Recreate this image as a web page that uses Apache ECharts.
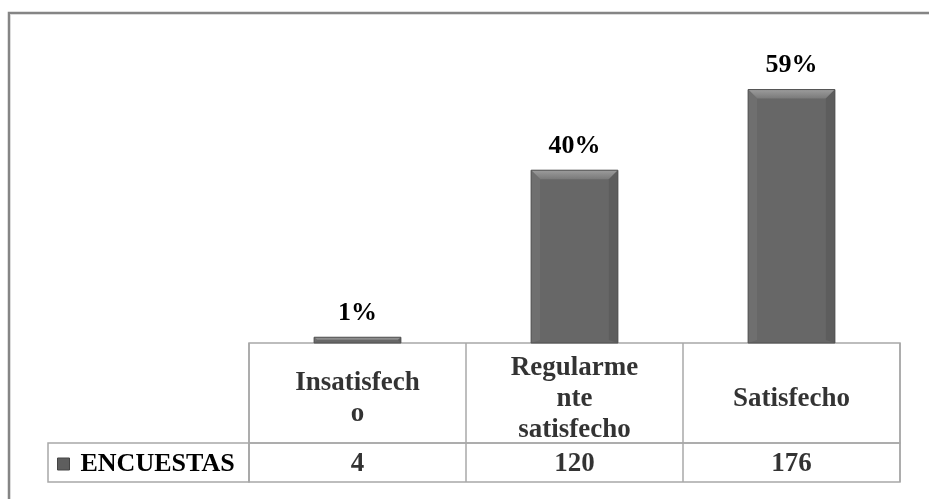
<!DOCTYPE html>
<html>
<head>
<meta charset="utf-8">
<title>ENCUESTAS</title>
<script src="https://cdn.jsdelivr.net/npm/echarts@6/dist/echarts.min.js"></script>
<style>
    html, body { margin: 0; padding: 0; background: #ffffff; }
    #chart-wrapper { width: 929px; height: 499px; }
</style>
</head>
<body>
<div id="chart-wrapper"></div>
<script>
// data
var categories = ["Insatisfecho", "Regularmente satisfecho", "Satisfecho"];
// header cells wrap the same way as in the original table
var headerLabels = ["Insatisfech\no", "Regularme\nnte\nsatisfecho", "Satisfecho"];
var seriesName = "ENCUESTAS";
var values = [4, 120, 176];

function EncuestasChart() {
    this.dom = document.getElementById("chart-wrapper");
    this.chart = echarts.init(this.dom);

    this.font = "'Liberation Serif', 'Times New Roman', serif";
    this.lineColor = "#a8a8a8";
    this.barColor = "#676767";
    this.total = 0;
    for (var i = 0; i < values.length; i++) {
        this.total += values[i];
    }
}

EncuestasChart.prototype.renderBar = function (params, api) {
    var self = this;
    var top = api.coord([api.value(0), api.value(1)]);
    var base = api.coord([api.value(0), 0]);
    var w = api.size([1, 0])[0] * 0.4;
    var x0 = top[0] - w / 2, x1 = top[0] + w / 2;
    var y0 = top[1], y1 = base[1];
    var h = y1 - y0;
    var d = Math.min(9, h / 2);
    var pct = Math.round(api.value(1) / self.total * 100) + "%";

    return {
        type: "group",
        children: [
            {type: "rect", shape: {x: x0, y: y0, width: w, height: h}, style: {fill: self.barColor}},
            // bevel: top, left, right, bottom
            {type: "polygon", shape: {points: [[x0, y0], [x1, y0], [x1 - d, y0 + d], [x0 + d, y0 + d]]},
                style: {fill: new echarts.graphic.LinearGradient(0, 0, 0, 1, [
                    {offset: 0, color: "#9c9c9c"}, {offset: 1, color: "#7a7a7a"}])}},
            {type: "polygon", shape: {points: [[x0, y0], [x0 + d, y0 + d], [x0 + d, y1 - 3], [x0, y1]]},
                style: {fill: "#6f6f6f"}},
            {type: "polygon", shape: {points: [[x1, y0], [x1, y1], [x1 - d, y1 - 3], [x1 - d, y0 + d]]},
                style: {fill: "#5d5d5d"}},
            {type: "rect", shape: {x: x0, y: y0, width: w, height: h},
                style: {fill: "none", stroke: "#525252", lineWidth: 1}},
            {type: "text", x: top[0], y: y0 - 11,
                style: {text: pct, align: "center", verticalAlign: "bottom",
                    font: "bold 26px " + self.font, fill: "#000000"}}
        ]
    };
};

EncuestasChart.prototype.tableAxis = function (gridIndex) {
    var self = this;
    return {
        type: "category",
        gridIndex: gridIndex,
        data: categories,
        axisLine: {show: false},
        axisTick: {show: false},
        axisLabel: {show: false},
        splitLine: {show: true, interval: 0, lineStyle: {color: self.lineColor, width: 1.5}}
    };
};

EncuestasChart.prototype.tableSeries = function (gridIndex, texts, dy) {
    var self = this;
    var data = [];
    for (var i = 0; i < categories.length; i++) {
        data.push([categories[i], "row"]);
    }
    return {
        type: "scatter",
        xAxisIndex: gridIndex,
        yAxisIndex: gridIndex,
        symbol: "rect",
        symbolSize: 1,
        itemStyle: {color: "rgba(0,0,0,0)"},
        silent: true,
        data: data,
        label: {
            show: true,
            position: "inside",
            offset: [0, dy],
            fontFamily: self.font,
            fontWeight: "bold",
            fontSize: 27,
            lineHeight: 31,
            color: "#000000",
            formatter: function (p) {
                return texts[p.dataIndex];
            }
        }
    };
};

EncuestasChart.prototype.figureControl = function () {
    var self = this;
    var valueTexts = [];
    for (var i = 0; i < values.length; i++) {
        valueTexts.push(String(values[i]));
    }

    var option = {
        backgroundColor: "#ffffff",
        animation: false,
        graphic: [
            // outer frame, cut off at the right and bottom edges
            {type: "rect", shape: {x: 9, y: 13, width: 1000, height: 1000},
                style: {fill: "none", stroke: "#858585", lineWidth: 2.5}, z: 0},
            {type: "rect", shape: {x: 10.5, y: 14.5, width: 1000, height: 1000},
                style: {fill: "none", stroke: "#dcdcdc", lineWidth: 1}, z: 0},
            // legend cell of the data table
            {type: "rect", shape: {x: 48, y: 443, width: 201, height: 39},
                style: {fill: "none", stroke: self.lineColor, lineWidth: 1.5}, z: 0}
        ],
        legend: {
            data: [seriesName],
            left: 57,
            top: 451,
            padding: 0,
            icon: "rect",
            itemWidth: 12,
            itemHeight: 12,
            itemStyle: {color: "#5e5e5e", borderColor: "#444444", borderWidth: 1},
            textStyle: {fontFamily: self.font, fontWeight: "bold", fontSize: 26, color: "#000000", padding: [0, 0, 0, 6]}
        },
        grid: [
            {left: 249, right: 29, top: 55, bottom: 156},
            {left: 249, right: 29, top: 343, height: 100, show: true, borderColor: self.lineColor, borderWidth: 1.5},
            {left: 249, right: 29, top: 443, height: 39, show: true, borderColor: self.lineColor, borderWidth: 1.5}
        ],
        xAxis: [
            {type: "category", gridIndex: 0, data: categories, show: false},
            self.tableAxis(1),
            self.tableAxis(2)
        ],
        yAxis: [
            {type: "value", gridIndex: 0, min: 0, max: 200, show: false},
            {type: "category", gridIndex: 1, data: ["row"], show: false},
            {type: "category", gridIndex: 2, data: ["row"], show: false}
        ],
        series: [
            {
                name: seriesName,
                type: "custom",
                xAxisIndex: 0,
                yAxisIndex: 0,
                itemStyle: {color: "#5e5e5e"},
                data: values.map(function (v, i) { return [categories[i], v]; }),
                renderItem: function (params, api) {
                    return self.renderBar(params, api);
                }
            },
            self.tableSeries(1, headerLabels, 6),
            self.tableSeries(2, valueTexts, 2)
        ]
    };

    self.chart.setOption(option, true);
};

var encuestasChart = new EncuestasChart();
encuestasChart.figureControl();
</script>
</body>
</html>
